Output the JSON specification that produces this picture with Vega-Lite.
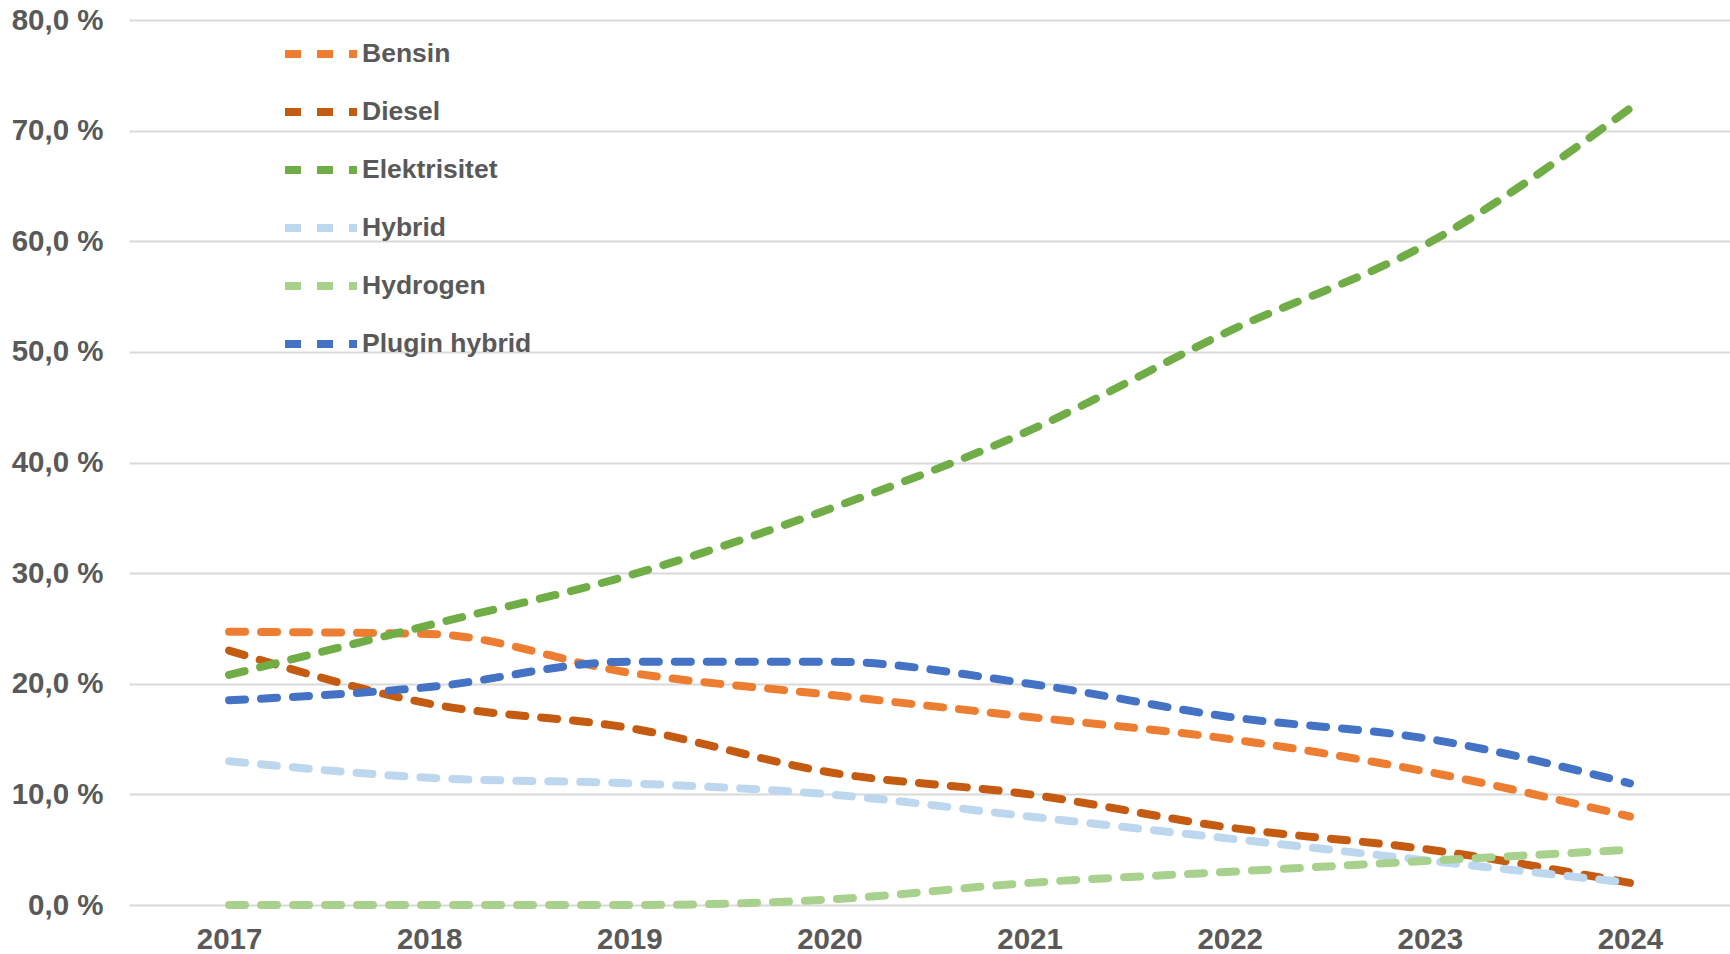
{
  "$schema": "https://vega.github.io/schema/vega-lite/v6.json",
  "autosize": "none",
  "padding": {"left": 129, "top": 20, "right": 0, "bottom": 49},
  "width": 1601,
  "height": 885,
  "background": "white",
  "config": {
    "view": {"stroke": null},
    "font": "Liberation Sans"
  },
  "data": {
    "values": [
      {"year": "2017", "type": "Bensin", "share": 24.7},
      {"year": "2018", "type": "Bensin", "share": 24.5},
      {"year": "2019", "type": "Bensin", "share": 21.0},
      {"year": "2020", "type": "Bensin", "share": 19.0},
      {"year": "2021", "type": "Bensin", "share": 17.0},
      {"year": "2022", "type": "Bensin", "share": 15.0},
      {"year": "2023", "type": "Bensin", "share": 12.0},
      {"year": "2024", "type": "Bensin", "share": 8.0},
      {"year": "2017", "type": "Diesel", "share": 23.0},
      {"year": "2018", "type": "Diesel", "share": 18.2},
      {"year": "2019", "type": "Diesel", "share": 16.0},
      {"year": "2020", "type": "Diesel", "share": 12.0},
      {"year": "2021", "type": "Diesel", "share": 10.0},
      {"year": "2022", "type": "Diesel", "share": 7.0},
      {"year": "2023", "type": "Diesel", "share": 5.0},
      {"year": "2024", "type": "Diesel", "share": 2.0},
      {"year": "2017", "type": "Elektrisitet", "share": 20.8},
      {"year": "2018", "type": "Elektrisitet", "share": 25.3},
      {"year": "2019", "type": "Elektrisitet", "share": 29.8},
      {"year": "2020", "type": "Elektrisitet", "share": 35.8},
      {"year": "2021", "type": "Elektrisitet", "share": 42.9},
      {"year": "2022", "type": "Elektrisitet", "share": 51.9},
      {"year": "2023", "type": "Elektrisitet", "share": 59.9},
      {"year": "2024", "type": "Elektrisitet", "share": 72.0},
      {"year": "2017", "type": "Hybrid", "share": 13.0},
      {"year": "2018", "type": "Hybrid", "share": 11.5},
      {"year": "2019", "type": "Hybrid", "share": 11.0},
      {"year": "2020", "type": "Hybrid", "share": 10.0},
      {"year": "2021", "type": "Hybrid", "share": 8.0},
      {"year": "2022", "type": "Hybrid", "share": 6.0},
      {"year": "2023", "type": "Hybrid", "share": 4.0},
      {"year": "2024", "type": "Hybrid", "share": 2.0},
      {"year": "2017", "type": "Hydrogen", "share": 0.0},
      {"year": "2018", "type": "Hydrogen", "share": 0.0},
      {"year": "2019", "type": "Hydrogen", "share": 0.0},
      {"year": "2020", "type": "Hydrogen", "share": 0.5},
      {"year": "2021", "type": "Hydrogen", "share": 2.0},
      {"year": "2022", "type": "Hydrogen", "share": 3.0},
      {"year": "2023", "type": "Hydrogen", "share": 4.0},
      {"year": "2024", "type": "Hydrogen", "share": 5.0},
      {"year": "2017", "type": "Plugin hybrid", "share": 18.5},
      {"year": "2018", "type": "Plugin hybrid", "share": 19.7},
      {"year": "2019", "type": "Plugin hybrid", "share": 22.0},
      {"year": "2020", "type": "Plugin hybrid", "share": 22.0},
      {"year": "2021", "type": "Plugin hybrid", "share": 20.0},
      {"year": "2022", "type": "Plugin hybrid", "share": 17.0},
      {"year": "2023", "type": "Plugin hybrid", "share": 15.0},
      {"year": "2024", "type": "Plugin hybrid", "share": 11.0}
    ]
  },
  "mark": {
    "type": "line",
    "interpolate": "monotone",
    "strokeWidth": 8,
    "strokeCap": "round",
    "strokeDash": [16, 16]
  },
  "encoding": {
    "x": {
      "field": "year",
      "type": "ordinal",
      "scale": {"type": "point", "padding": 0.5},
      "axis": {
        "title": null,
        "labelAngle": 0,
        "domain": false,
        "ticks": false,
        "grid": false,
        "labelFont": "Liberation Sans",
        "labelFontSize": 29.5,
        "labelFontWeight": "bold",
        "labelColor": "#595959",
        "labelPadding": 20
      }
    },
    "y": {
      "field": "share",
      "type": "quantitative",
      "scale": {"domain": [0, 80], "nice": false},
      "axis": {
        "title": null,
        "values": [0, 10, 20, 30, 40, 50, 60, 70, 80],
        "labelExpr": "replace(format(datum.value, '.1f'), '.', ',') + ' %'",
        "domain": false,
        "ticks": false,
        "grid": true,
        "gridColor": "#D9D9D9",
        "gridWidth": 2,
        "labelFont": "Liberation Sans",
        "labelFontSize": 29.5,
        "labelFontWeight": "bold",
        "labelColor": "#595959",
        "labelPadding": 26
      }
    },
    "color": {
      "field": "type",
      "type": "nominal",
      "scale": {
        "domain": ["Bensin", "Diesel", "Elektrisitet", "Hybrid", "Hydrogen", "Plugin hybrid"],
        "range": ["#ED7D31", "#C55A11", "#70AD47", "#BDD7EE", "#A9D18E", "#4472C4"]
      },
      "legend": {
        "title": null,
        "orient": "none",
        "legendX": 152,
        "legendY": -6,
        "symbolType": "stroke",
        "symbolSize": 5184,
        "symbolStrokeWidth": 8,
        "symbolDash": [16, 16],
        "labelFont": "Liberation Sans",
        "labelFontSize": 26.5,
        "labelFontWeight": "bold",
        "labelColor": "#595959",
        "labelOffset": 1,
        "labelLimit": 400,
        "rowPadding": 2
      }
    }
  }
}
